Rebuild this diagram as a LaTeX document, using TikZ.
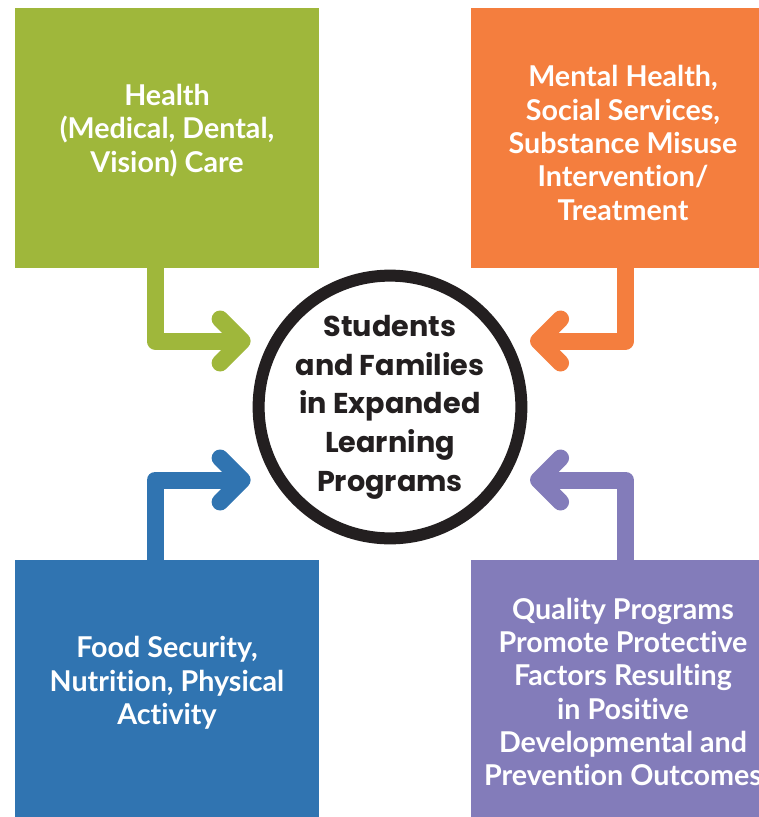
\documentclass[tikz,border=0pt]{standalone}
\usepackage{fontspec}
\setmainfont{Lato}[Ligatures=NoCommon]
\newfontfamily\hubfont{Poppins}
\usetikzlibrary{arrows.meta}

\definecolor{healthgreen}{HTML}{9FB73B}
\definecolor{mentalorange}{HTML}{F47E3E}
\definecolor{foodblue}{HTML}{3074B1}
\definecolor{qualitypurple}{HTML}{837CBA}
\definecolor{hubblack}{HTML}{231F20}

\tikzset{
  box/.style={minimum width=228pt, minimum height=195pt, inner sep=0pt},
  boxtext/.style={inner sep=0pt, align=center, text=white,
    font=\bfseries\fontsize{21.5}{25}\selectfont},
  hub/.style={circle, draw=hubblack, line width=9pt, minimum size=193.5pt,
    inner sep=0pt, align=center, text=hubblack,
    font=\hubfont\bfseries\fontsize{21.5}{29}\selectfont},
  feed/.style={line width=12.75pt, line join=round,
    -{Straight Barb[round, length=16.5pt, width=33pt]}},
}

\begin{document}
\begin{tikzpicture}[x=0.75pt, y=-0.75pt]
  \path[use as bounding box, clip] (0,0) rectangle (759,817);

  % the four service boxes
  \node[box, fill=healthgreen] (health) at (167,138) {};
  \node[box, fill=mentalorange] (mental) at (623,138) {};
  \node[box, fill=foodblue] (food) at (167,690) {};
  \node[box, fill=qualitypurple] (quality) at (623,690) {};

  \node[boxtext] (healthtext) at ([yshift=5.6pt]health.center)
    {Health\\(Medical, Dental,\\Vision) Care};
  \node[boxtext] (mentaltext) at ([yshift=-3.75pt]mental.center)
    {Mental Health,\\Social Services,\\Substance Misuse\\Intervention/\\Treatment};
  \node[boxtext] (foodtext) at ([yshift=5.25pt]food.center)
    {Food Security,\\Nutrition, Physical\\Activity};
  \node[boxtext] (qualitytext) at ([yshift=-1.5pt]quality.center)
    {Quality Programs\\Promote Protective\\Factors Resulting\\in Positive\\Developmental and\\Prevention Outcomes};

  % the hub
  \node[hub] (hub) at (390,407)
    {Students\\and Families\\in Expanded\\Learning\\Programs};

  % feeds into the hub
  \draw[feed, healthgreen] ([xshift=-9pt]health.south)
    |- ([xshift=-1.5pt, yshift=49.5pt]hub.west);
  \draw[feed, mentalorange] ([xshift=2pt]mental.south)
    |- ([xshift=2pt, yshift=49.5pt]hub.east);
  \draw[feed, foodblue] ([xshift=-9pt]food.north)
    |- ([xshift=-1.5pt, yshift=-54.75pt]hub.west);
  \draw[feed, qualitypurple] ([xshift=2pt]quality.north)
    |- ([xshift=2pt, yshift=-54.75pt]hub.east);
\end{tikzpicture}
\end{document}
